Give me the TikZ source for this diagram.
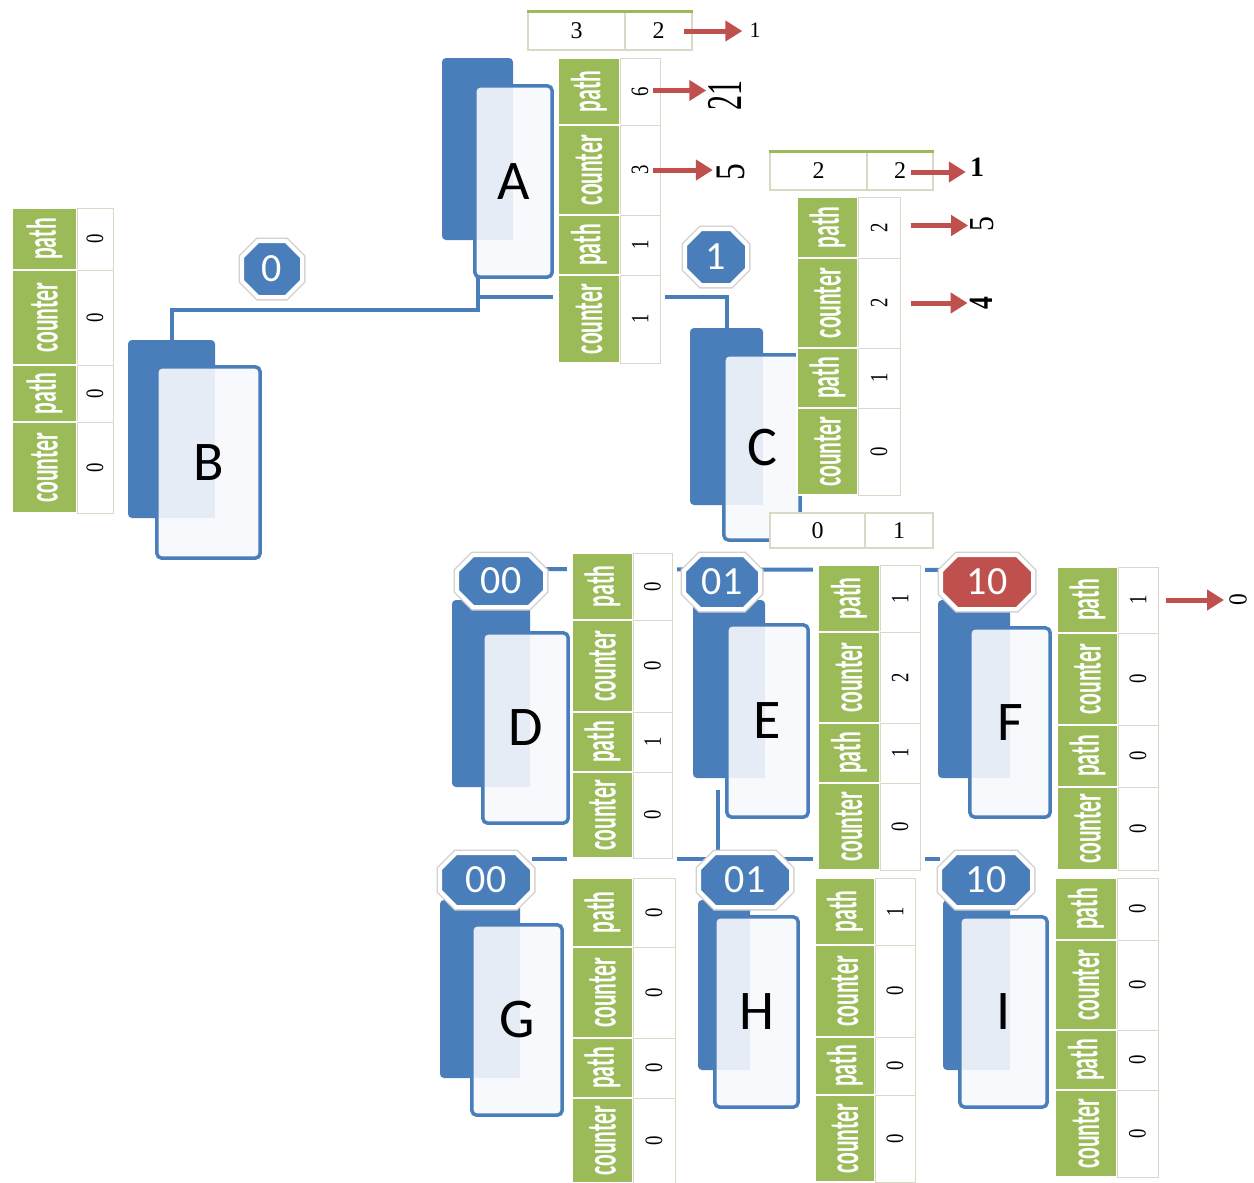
\documentclass[tikz,border=0pt]{standalone}
\usepackage{fontspec}
\usepackage{graphicx}
\usetikzlibrary{arrows.meta,calc}
\newfontfamily\calib{Carlito}
\newfontfamily\tnr{Liberation Serif}
\definecolor{cblue}{HTML}{4A7EBB}
\definecolor{cgreen}{HTML}{9BBB59}
\definecolor{cred}{HTML}{C0504D}
\definecolor{cgrid}{HTML}{D9D9C6}
\definecolor{cfront}{HTML}{F7F9FC}
\definecolor{cover}{HTML}{E6ECF5}
\pgfdeclarelayer{bg}
\pgfdeclarelayer{mid}
\pgfsetlayers{bg,mid,main}
\tikzset{
 conn/.style={draw=cblue, line width=4pt},
 backcard/.style={fill=cblue, rounded corners=4pt, inner sep=0pt, draw=none},
 frontcard/.style={fill=cfront, rounded corners=5pt, inner sep=0pt},
 cardline/.style={draw=cblue, line width=3.5pt, rounded corners=5pt},
 cardletter/.style={font=\calib\fontsize{56}{56}\selectfont, inner sep=0pt},
 gcell/.style={fill=cgreen, draw=white, line width=1.5pt, inner sep=0pt, text=white, font=\calib\bfseries\fontsize{42}{42}\selectfont},
 vcell/.style={fill=white, draw=cgrid, line width=1pt, inner sep=0pt, font=\tnr\fontsize{25}{25}\selectfont},
 hcell/.style={fill=white, draw=cgrid, line width=1.5pt, inner sep=0pt, font=\tnr\fontsize{24}{24}\selectfont},
 topline/.style={draw=cgreen, line width=3pt},
 redarrow/.style={draw=cred, line width=5pt, -{Triangle[length=17pt,width=20pt]}},
 badgetext/.style={inner sep=0pt, text=white, font=\calib\fontsize{40}{40}\selectfont},
 octo/.style={line width=4pt, draw=white, preaction={draw=black!18, line width=7pt}},
 numlab/.style={inner sep=1pt},
}
\newcommand\rlab[2]{\rotatebox{90}{\scalebox{#1}[1]{#2}}}
% card: name, back x0,y0,x1,y1, front x0,y0,x1,y1
\newcommand\card[9]{%
 \node[backcard, minimum width={#4-#2}, minimum height={#5-#3}] (#1back) at ({(#2+#4)/2},{(#3+#5)/2}) {};
 \node[frontcard, minimum width={#8-#6}, minimum height={#9-#7}] (#1front) at ({(#6+#8)/2},{(#7+#9)/2}) {};
 \begin{scope}
  \clip[rounded corners=5pt] (#6,#7) rectangle (#8,#9);
  \fill[cover] (#2,#3) rectangle (#4,#5);
 \end{scope}
 \draw[cardline] (#1front.north west) rectangle (#1front.south east);
 \node[cardletter] (#1lab) at (#1front) {#1};
}
% table: name, x0, x1, x2, rows
\newcommand\vtab[5]{%
 \foreach \yt/\yb/\lab/\val [count=\i] in {#5} {
  \node[gcell, minimum width={#3-#2}, minimum height={\yb-\yt}] (#1g\i) at ({(#2+#3)/2},{(\yt+\yb)/2}) {\rlab{0.52}{\lab}};
  \node[vcell, minimum width={#4-#3}, minimum height={\yb-\yt}] (#1v\i) at ({(#3+#4)/2},{(\yt+\yb)/2}) {\rlab{0.75}{\val}};
 }
 \begin{pgfonlayer}{mid}
  \fill[white] ($(#1g1.north west)+(-4,-4)$) rectangle ($(#1v4.south east)+(4,4)$);
 \end{pgfonlayer}
}
% badge: name, cx, cy, w, h, colour, text
\newcommand\badge[7]{%
 \path[octo, fill=#6] ({#2-#4/2+16},{#3-#5/2}) -- ({#2+#4/2-16},{#3-#5/2}) -- ({#2+#4/2},{#3-#5/2+16}) -- ({#2+#4/2},{#3+#5/2-16}) -- ({#2+#4/2-16},{#3+#5/2}) -- ({#2-#4/2+16},{#3+#5/2}) -- ({#2-#4/2},{#3+#5/2-16}) -- ({#2-#4/2},{#3-#5/2+16}) -- cycle;
 \node[badgetext, minimum width={#4}, minimum height={#5}] (#1) at (#2,#3) {#7};
}
\begin{document}
\begin{tikzpicture}[x=1pt,y=-1pt]
\useasboundingbox (0,0) rectangle (1254,1183);
\begin{pgfonlayer}{bg}
 \fill[white] (0,0) rectangle (1254,1183);
\end{pgfonlayer}

% cards
\card{A}{442}{58}{513}{240}{475}{86}{552}{277}
\card{B}{128}{340}{215}{518}{157}{367}{260}{558}
\card{C}{690}{328}{763}{505}{724}{355}{800}{540}
\card{D}{452}{600}{530}{787}{483}{633}{568}{823}
\card{E}{693}{600}{765}{778}{727}{625}{808}{817}
\card{F}{938}{600}{1010}{778}{970}{628}{1050}{817}
\card{G}{440}{900}{520}{1078}{472}{925}{562}{1115}
\card{H}{698}{900}{750}{1070}{715}{917}{798}{1107}
\card{I}{943}{900}{1010}{1070}{960}{917}{1047}{1107}

% vertical tables
\vtab{tA}{558}{620}{660}{58/125/path/6, 125/215/counter/3, 215/275/path/1, 275/363/counter/1}
\vtab{tB}{12}{77}{113}{208/270/path/0, 270/365/counter/0, 365/422/path/0, 422/513/counter/0}
\vtab{tC}{797}{858}{900}{197/258/path/2, 258/348/counter/2, 348/408/path/1, 408/495/counter/0}
\vtab{tD}{572}{633}{672}{553/620/path/0, 620/712/counter/0, 712/772/path/1, 772/858/counter/0}
\vtab{tE}{818}{880}{920}{565/632/path/1, 632/723/counter/2, 723/783/path/1, 783/870/counter/0}
\vtab{tF}{1057}{1118}{1158}{567/633/path/1, 633/725/counter/0, 725/787/path/0, 787/870/counter/0}
\vtab{tG}{572}{633}{675}{878/947/path/0, 947/1038/counter/0, 1038/1098/path/0, 1098/1183/counter/0}
\vtab{tH}{815}{875}{915}{878/945/path/1, 945/1037/counter/0, 1037/1095/path/0, 1095/1182/counter/0}
\vtab{tI}{1055}{1117}{1158}{878/940/path/0, 940/1030/counter/0, 1030/1090/path/0, 1090/1177/counter/0}

% horizontal small tables
\node[hcell, minimum width=97, minimum height=38] (hA1) at (576.5,31) {3};
\node[hcell, minimum width=67, minimum height=38] (hA2) at (658.5,31) {2};
\draw[topline] (hA1.north west) -- (hA2.north east);
\node[hcell, minimum width=97, minimum height=38] (hC1) at (818.5,171) {2};
\node[hcell, minimum width=66, minimum height=38] (hC2) at (900,171) {2};
\draw[topline] (hC1.north west) -- (hC2.north east);
\node[hcell, minimum width=95, minimum height=35] (hD1) at (817.5,530.5) {0};
\node[hcell, minimum width=68, minimum height=35] (hD2) at (899,530.5) {1};

% badges
\badge{b0}{272}{269}{60}{56}{cblue}{0}
\badge{b1}{716}{257}{62}{56}{cblue}{1}
\badge{bD}{501}{581}{88}{52}{cblue}{00}
\badge{bE}{722}{582}{76}{54}{cblue}{01}
\badge{bF}{987}{582}{92}{54}{cred}{10}
\badge{bG}{486}{880}{92}{54}{cblue}{00}
\badge{bH}{745}{880}{92}{54}{cblue}{01}
\badge{bI}{986}{880}{92}{54}{cblue}{10}

% result labels
\node[numlab, font=\tnr\fontsize{22}{22}\selectfont] (oA1) at (755,30) {1};
\node[numlab, font=\tnr\fontsize{50}{50}\selectfont] (o21) at (725,95) {\rlab{0.6}{21}};
\node[numlab, font=\tnr\fontsize{42}{42}\selectfont] (o5a) at (731,172) {\rlab{0.8}{5}};
\node[numlab, font=\tnr\bfseries\fontsize{28}{28}\selectfont] (oC1) at (977,167) {1};
\node[numlab, font=\tnr\fontsize{35}{35}\selectfont] (o5c) at (982,224) {\rlab{0.85}{5}};
\node[numlab, font=\tnr\bfseries\fontsize{34}{34}\selectfont] (o4) at (981,303) {\rlab{0.75}{4}};
\node[numlab, font=\tnr\fontsize{26}{26}\selectfont] (oF0) at (1238,600) {\rlab{0.9}{0}};

% red arrows
\draw[redarrow] ($(hA2.east)+(-9,0)$) -- ($(hA2.east -| oA1.west)+(-6,0)$);
\draw[redarrow] ($(tAv1.east)+(-8,-1)$) -- ($(tAv1.east -| o21.west)+(-1,-1)$);
\draw[redarrow] ($(tAv2.east)+(-8,0)$) -- ($(tAv2.east -| o5a.west)+(-3,0)$);
\draw[redarrow] ($(hC2.east)+(-23,1)$) -- ($(hC2.east -| oC1.west)+(-3,1)$);
\draw[redarrow] ($(tCv1.east)+(10,-2)$) -- ($(tCv1.east -| o5c.west)+(-1,-2)$);
\draw[redarrow] ($(tCv2.east)+(10,0)$) -- ($(tCv2.east -| o4.west)+(-1,0)$);
\draw[redarrow] ($(tFv1.east)+(7,0)$) -- ($(tFv1.east -| oF0.west)+(-4,0)$);

% connectors (behind everything)
\begin{pgfonlayer}{bg}
 \draw[conn] ($(Afront.south west)+(3,0)$) |- ($(Bback.north west)+(44,-30)$) -- ($(Bback.north west)+(44,0)$);
 \draw[conn] ($(Afront.south west)+(3,20)$) -| ($(Cback.north west)+(37,0)$);
 \draw[conn] ($(bD.east)+(0,-12)$) -- ($(bF.west)+(0,-12)$);
 \draw[conn] ($(bG.east)+(0,-21)$) -- ($(bI.west)+(0,-21)$);
 \draw[conn] ($(Eback.south west)+(25,12)$) -- ($(Eback.south west)+(25,81)$);
\end{pgfonlayer}
\end{tikzpicture}
\end{document}
